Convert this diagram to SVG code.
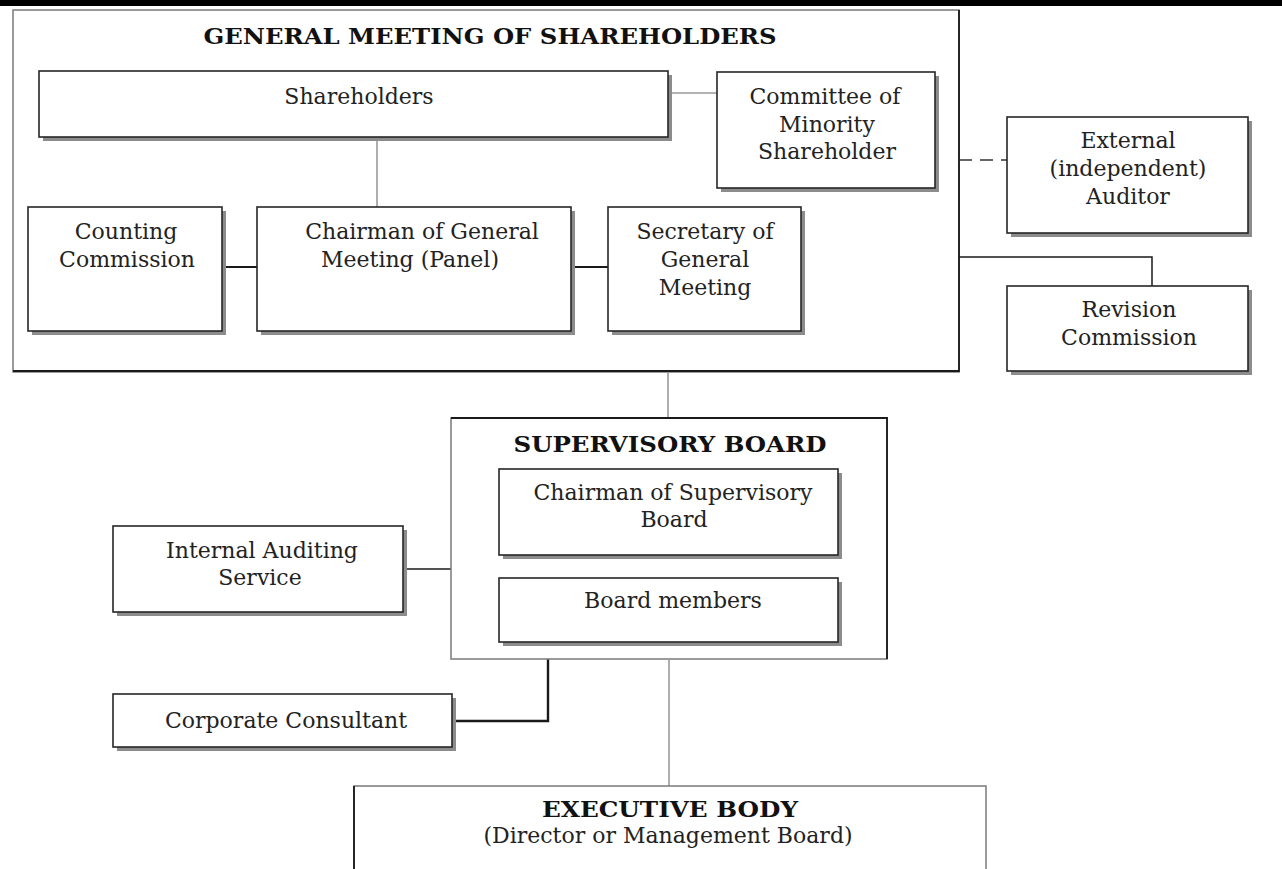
<svg xmlns="http://www.w3.org/2000/svg" width="1282" height="869" viewBox="0 0 1282 869">
<style>
.t{font-family:"DejaVu Serif","Liberation Serif",serif;font-size:22px;fill:#222;text-anchor:middle}
.b{font-family:"DejaVu Serif","Liberation Serif",serif;font-size:23px;font-weight:bold;fill:#111;text-anchor:middle}
.box{fill:#fff;stroke:#262626;stroke-width:1.6}
.sh{fill:#8c8c8c}
.frame{fill:#fff;stroke:#7a7a7a;stroke-width:1.5}
.frameEdge{fill:none;stroke:#1a1a1a;stroke-width:1.8}
.cg{fill:none;stroke:#9a9a9a;stroke-width:1.6}
.ck{fill:none;stroke:#1a1a1a;stroke-width:1.8}
.cd{fill:none;stroke:#333;stroke-width:1.5;stroke-dasharray:13 8}
</style>
<rect x="0" y="0" width="1282" height="869" fill="#fff"/>
<rect x="0" y="0" width="1282" height="6" fill="#000"/>

<g id="general-meeting">
<rect class="frame" x="13" y="10" width="946" height="362"/>
<polyline class="frameEdge" points="13,371 959,371 959,10"/>
<text class="b" x="490" y="44" textLength="573" lengthAdjust="spacingAndGlyphs">GENERAL MEETING OF SHAREHOLDERS</text>
</g>

<g id="connectors">
<line class="cg" x1="377" y1="137" x2="377" y2="207"/>
<line class="cg" x1="668" y1="93" x2="717" y2="93"/>
<line class="ck" x1="222" y1="267" x2="257" y2="267"/>
<line class="ck" x1="571" y1="267" x2="608" y2="267"/>
<line class="cd" x1="959" y1="160" x2="1007" y2="160"/>
<polyline class="ck" points="959,257 1152,257 1152,286" style="stroke-width:1.5"/>
<line class="cg" x1="668" y1="372" x2="668" y2="418"/>
<line class="ck" x1="403" y1="569" x2="451" y2="569" style="stroke-width:1.6"/>
<line class="cg" x1="669" y1="555" x2="669" y2="578"/>
<polyline class="ck" points="452,721 548,721 548,659" style="stroke-width:2.4"/>
<line class="cg" x1="669" y1="660" x2="669" y2="786"/>
</g>

<g id="shareholders">
<rect class="sh" x="43" y="75" width="629" height="66"/>
<rect class="box" x="39" y="71" width="629" height="66"/>
<text class="t" x="359" y="104">Shareholders</text>
</g>

<g id="committee">
<rect class="sh" x="721" y="76" width="218" height="116"/>
<rect class="box" x="717" y="72" width="218" height="116"/>
<text class="t" x="825" y="104">Committee of</text>
<text class="t" x="827" y="132">Minority</text>
<text class="t" x="827" y="159">Shareholder</text>
</g>

<g id="counting">
<rect class="sh" x="32" y="211" width="194" height="124"/>
<rect class="box" x="28" y="207" width="194" height="124"/>
<text class="t" x="126" y="239">Counting</text>
<text class="t" x="127" y="267">Commission</text>
</g>

<g id="chairman-gm">
<rect class="sh" x="261" y="211" width="314" height="124"/>
<rect class="box" x="257" y="207" width="314" height="124"/>
<text class="t" x="422" y="239">Chairman of General</text>
<text class="t" x="410" y="267">Meeting (Panel)</text>
</g>

<g id="secretary">
<rect class="sh" x="612" y="211" width="193" height="124"/>
<rect class="box" x="608" y="207" width="193" height="124"/>
<text class="t" x="705" y="239">Secretary of</text>
<text class="t" x="705" y="267">General</text>
<text class="t" x="705" y="295">Meeting</text>
</g>

<g id="external-auditor">
<rect class="sh" x="1011" y="121" width="241" height="116"/>
<rect class="box" x="1007" y="117" width="241" height="116"/>
<text class="t" x="1128" y="148">External</text>
<text class="t" x="1128" y="176">(independent)</text>
<text class="t" x="1128" y="204">Auditor</text>
</g>

<g id="revision">
<rect class="sh" x="1011" y="290" width="241" height="85"/>
<rect class="box" x="1007" y="286" width="241" height="85"/>
<text class="t" x="1129" y="317">Revision</text>
<text class="t" x="1129" y="345">Commission</text>
</g>

<g id="supervisory-board">
<rect class="frame" x="451" y="418" width="436" height="241"/>
<polyline class="frameEdge" points="451,418 887,418 887,659"/>
<text class="b" x="670" y="452" textLength="313" lengthAdjust="spacingAndGlyphs">SUPERVISORY BOARD</text>
</g>

<g id="chairman-sb">
<rect class="sh" x="503" y="473" width="339" height="86"/>
<rect class="box" x="499" y="469" width="339" height="86"/>
<text class="t" x="673" y="500">Chairman of Supervisory</text>
<text class="t" x="674" y="527">Board</text>
</g>

<g id="board-members">
<rect class="sh" x="503" y="582" width="339" height="64"/>
<rect class="box" x="499" y="578" width="339" height="64"/>
<text class="t" x="673" y="608">Board members</text>
</g>

<g id="internal-auditing">
<rect class="sh" x="117" y="530" width="290" height="86"/>
<rect class="box" x="113" y="526" width="290" height="86"/>
<text class="t" x="262" y="558">Internal Auditing</text>
<text class="t" x="260" y="585">Service</text>
</g>

<g id="corporate-consultant">
<rect class="sh" x="117" y="698" width="339" height="53"/>
<rect class="box" x="113" y="694" width="339" height="53"/>
<text class="t" x="286" y="728">Corporate Consultant</text>
</g>

<g id="executive-body">
<rect class="frame" x="354" y="786" width="632" height="100"/>
<line class="frameEdge" x1="354" y1="786" x2="354" y2="869"/>
<text class="b" x="670" y="817" textLength="256" lengthAdjust="spacingAndGlyphs">EXECUTIVE BODY</text>
<text class="t" x="668" y="843">(Director or Management Board)</text>
</g>
</svg>
